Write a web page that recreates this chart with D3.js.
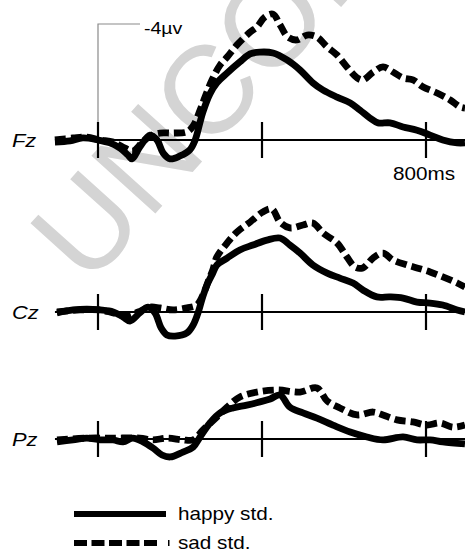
<!DOCTYPE html>
<html>
<head>
<meta charset="utf-8">
<script src="https://cdn.jsdelivr.net/npm/d3@7"></script>
<style>
  body { margin: 0; background: #fff; }
  text { font-family: Arial, "Liberation Sans", sans-serif; }
</style>
</head>
<body>
<div class="chart"></div>
<script>
// ERP waveforms, [time ms, amplitude µV] (negative plotted up)
const electrodes = ["Fz", "Cz", "Pz"];
const tickTimes = [0, 400, 800];
const seriesNames = ["happy std.", "sad std."];

const fzHappy = [[-105,0.07],[-68,0.03],[-37,-0.07],[0,0],[29,0.10],[54,0.28],[73,0.52],[83,0.65],[102,0.24],[127,-0.17],[144,0],[159,0.45],[176,0.65],[200,0.55],[224,0.34],[237,0],[249,-0.62],[256,-0.97],[273,-1.59],[290,-1.97],[315,-2.31],[346,-2.69],[371,-2.97],[395,-3.03],[427,-3.0],[461,-2.76],[493,-2.41],[524,-1.97],[549,-1.72],[583,-1.48],[615,-1.28],[639,-1.03],[663,-0.76],[683,-0.59],[712,-0.59],[744,-0.45],[778,-0.34],[810,-0.17],[841,0],[876,0.10],[895,0.10]];
const fzSad = [[-105,0],[-61,-0.07],[-27,-0.10],[5,0],[37,0.07],[66,0.28],[85,0.38],[107,0.10],[127,-0.14],[151,-0.24],[183,-0.24],[217,-0.28],[232,-0.48],[249,-1.03],[261,-1.48],[278,-2.07],[298,-2.59],[315,-2.86],[339,-3.28],[371,-3.72],[388,-3.90],[407,-4.24],[427,-4.34],[444,-3.97],[463,-3.55],[485,-3.45],[510,-3.62],[534,-3.55],[559,-3.21],[583,-2.93],[607,-2.52],[632,-2.14],[646,-2.07],[671,-2.34],[695,-2.52],[720,-2.34],[744,-2.14],[768,-2.07],[793,-1.83],[827,-1.62],[859,-1.38],[883,-1.14],[895,-1.10]];

const czHappy = [[-100,0.03],[-61,-0.07],[-27,-0.10],[5,-0.07],[37,0],[61,0.17],[78,0.31],[102,0.03],[122,-0.17],[139,0.03],[154,0.55],[168,0.79],[188,0.83],[217,0.72],[232,0.45],[244,0.03],[256,-0.55],[268,-1.0],[280,-1.34],[290,-1.62],[315,-1.86],[346,-2.14],[378,-2.31],[412,-2.48],[444,-2.55],[468,-2.31],[493,-2.03],[524,-1.62],[559,-1.34],[590,-1.17],[622,-1.0],[646,-0.76],[680,-0.52],[712,-0.52],[744,-0.48],[778,-0.34],[810,-0.31],[841,-0.24],[876,-0.07],[895,0]];
const czSad = [[-100,0],[-44,-0.07],[5,-0.07],[37,0.03],[71,0.14],[98,0],[127,-0.17],[151,-0.14],[183,-0.07],[217,-0.14],[241,-0.24],[256,-0.59],[268,-1.03],[280,-1.45],[290,-1.90],[315,-2.38],[339,-2.76],[371,-3.10],[402,-3.45],[424,-3.55],[444,-3.10],[468,-2.90],[500,-3.0],[524,-3.07],[549,-2.72],[583,-2.38],[607,-1.90],[627,-1.55],[646,-1.52],[671,-1.86],[695,-2.03],[720,-1.79],[754,-1.62],[778,-1.52],[810,-1.38],[841,-1.21],[876,-1.0],[895,-0.86]];

const pzHappy = [[-100,0.10],[-61,0.03],[-27,-0.03],[5,0.03],[37,0.03],[61,0.10],[85,-0.03],[110,0.10],[134,0.31],[156,0.55],[176,0.62],[207,0.45],[232,0.28],[249,-0.07],[273,-0.55],[298,-0.90],[329,-1.07],[363,-1.17],[395,-1.28],[420,-1.38],[444,-1.52],[468,-1.10],[500,-0.90],[534,-0.72],[573,-0.48],[615,-0.24],[656,-0.07],[695,0.03],[744,-0.07],[778,0.03],[810,0.03],[841,0.10],[895,0.17]];
const pzSad = [[-100,0.03],[-27,-0.03],[37,-0.03],[102,-0.03],[134,0.03],[168,-0.03],[207,0.03],[232,0.03],[256,-0.31],[290,-0.76],[315,-1.10],[346,-1.45],[388,-1.62],[437,-1.69],[493,-1.62],[534,-1.76],[559,-1.31],[590,-1.07],[632,-0.83],[671,-0.93],[695,-0.83],[729,-0.66],[768,-0.59],[802,-0.48],[834,-0.55],[866,-0.41],[895,-0.48]];

const panelData = [[fzHappy, fzSad], [czHappy, czSad], [pzHappy, pzSad]];

const width = 465, height = 552;
const baselines = [140, 312, 439];
const pxPerUv = 29;

const svg = d3.select(".chart").append("svg")
    .attr("width", width)
    .attr("height", height);

// watermark
svg.append("text")
    .text("UNCORRECTED PROOF")
    .attr("transform", "translate(88,288) rotate(-48)")
    .attr("font-size", 125)
    .attr("fill", "#d4d4d4");

const x = d3.scaleLinear()
    .domain([0, 800])
    .range([98, 426]);

const dashes = ["none", "11,5"];

electrodes.forEach(function(name, i) {
    const base = baselines[i];
    const y = d3.scaleLinear()
        .domain([-4, 0])
        .range([base - 4 * pxPerUv, base]);

    const g = svg.append("g").attr("class", "panel");

    // zero line
    g.append("line")
        .attr("x1", x(-105)).attr("x2", width)
        .attr("y1", y(0)).attr("y2", y(0))
        .attr("stroke", "#000")
        .attr("stroke-width", 2);

    g.selectAll(".tick")
        .data(tickTimes)
        .enter()
        .append("line")
        .attr("class", "tick")
        .attr("x1", d => x(d)).attr("x2", d => x(d))
        .attr("y1", base - 18).attr("y2", base + 18)
        .attr("stroke", "#000")
        .attr("stroke-width", 2.2);

    const line = d3.line()
        .x(d => x(d[0]))
        .y(d => y(d[1]))
        .curve(d3.curveCatmullRom);

    g.selectAll(".trace")
        .data(panelData[i])
        .enter()
        .append("path")
        .attr("class", "trace")
        .attr("d", line)
        .attr("fill", "none")
        .attr("stroke", "#000")
        .attr("stroke-width", 6.8)
        .attr("stroke-linejoin", "round")
        .attr("stroke-dasharray", (d, j) => dashes[j]);

    g.append("text")
        .text(name)
        .attr("transform", "translate(12," + (base + 7) + ") scale(1.15,1)")
        .attr("font-size", 19)
        .attr("font-style", "italic");
});

// -4µV calibration bracket
const yFz = d3.scaleLinear().domain([-4, 0]).range([baselines[0] - 4 * pxPerUv, baselines[0]]);
svg.append("path")
    .attr("d", "M" + x(0) + "," + (baselines[0] - 18) + "V" + yFz(-4) + "H" + (x(0) + 42))
    .attr("fill", "none")
    .attr("stroke", "#8a8a8a")
    .attr("stroke-width", 1.2);

svg.append("text")
    .text("-4µv")
    .attr("transform", "translate(" + (x(0) + 46) + "," + (yFz(-4) + 10) + ") scale(1.15,1)")
    .attr("font-size", 17);

svg.append("text")
    .text("800ms")
    .attr("transform", "translate(393,180) scale(1.15,1)")
    .attr("font-size", 18);

// legend
const legend = svg.append("g");
legend.selectAll(".legend-line")
    .data(seriesNames)
    .enter()
    .append("line")
    .attr("class", "legend-line")
    .attr("x1", 74).attr("x2", (d, i) => i ? 171.5 : 166)
    .attr("y1", (d, i) => 514 + i * 29).attr("y2", (d, i) => 514 + i * 29)
    .attr("stroke", "#000")
    .attr("stroke-width", 6)
    .attr("stroke-dasharray", (d, i) => i ? "13,4.5,13,4.5,13,4.5,13,4.5,13,11,1.5" : "none");

legend.selectAll(".legend-text")
    .data(seriesNames)
    .enter()
    .append("text")
    .attr("class", "legend-text")
    .attr("transform", (d, i) => "translate(178," + (520 + i * 29) + ") scale(1.15,1)")
    .attr("font-size", 18)
    .text(d => d);
</script>
</body>
</html>
